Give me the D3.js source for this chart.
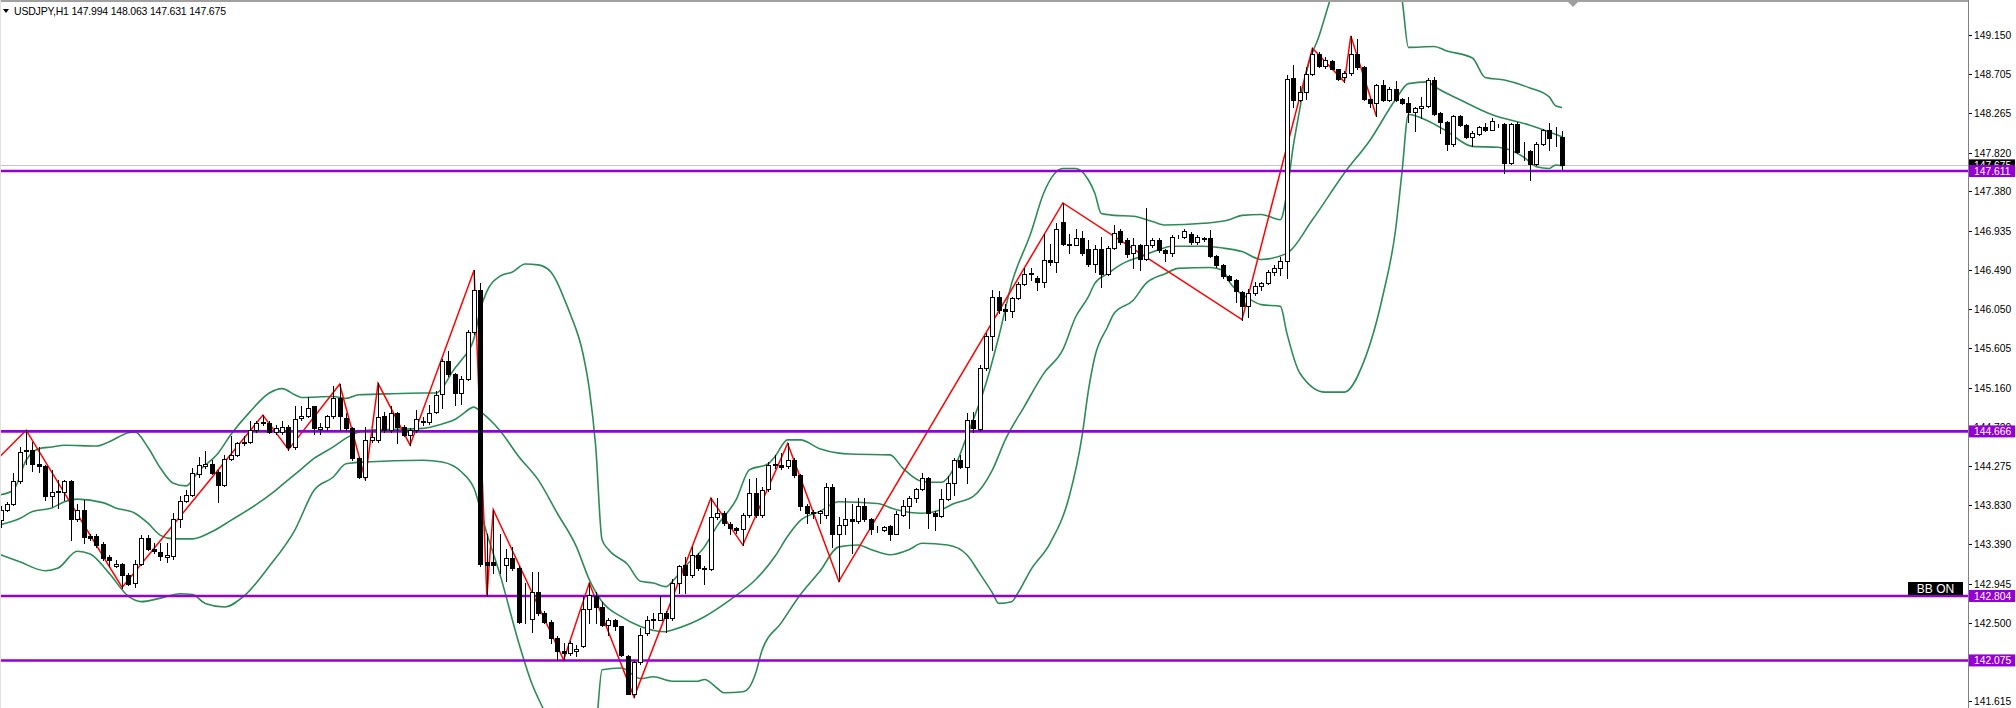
<!DOCTYPE html>
<html><head><meta charset="utf-8">
<script src="https://cdn.jsdelivr.net/npm/d3@7"></script>
<style>html,body{margin:0;padding:0;background:#fff;overflow:hidden}</style>
</head><body>
<svg id="c" width="2016" height="708"></svg>
<script>
const symbol = "USDJPY,H1";
const opens = [
143.66,143.78,143.85,144.10,144.44,144.46,144.30,144.27,143.94,143.98,
143.98,144.10,143.67,143.78,143.48,143.48,143.39,143.24,143.14,143.17,
143.04,142.95,143.17,143.46,143.34,143.30,143.25,143.26,143.68,143.88,
143.95,144.18,144.27,144.30,144.21,144.06,144.35,144.40,144.53,144.55,
144.68,144.76,144.76,144.66,144.66,144.72,144.49,144.82,144.84,144.95,
144.69,144.72,144.84,145.04,144.82,144.70,144.36,144.15,144.57,144.57,
144.84,144.68,144.87,144.72,144.62,144.68,144.77,144.77,144.88,145.09,
145.46,145.31,145.10,145.26,145.79,146.26,143.19,143.19,143.15,143.15,
143.23,143.12,142.53,142.54,142.85,142.61,142.51,142.33,142.18,142.16,
142.18,142.24,142.66,142.80,142.68,142.48,142.53,142.46,142.13,141.69,
142.06,142.38,142.53,142.53,142.61,142.55,142.95,143.16,143.04,143.27,
143.12,143.11,143.70,143.74,143.62,143.57,143.56,143.72,143.97,143.72,
144.01,144.29,144.29,144.27,144.34,144.17,143.82,143.74,143.74,143.72,
144.04,143.51,143.61,143.67,143.65,143.82,143.67,143.57,143.55,143.60,
143.51,143.72,143.82,143.91,144.01,144.14,143.74,143.71,143.90,144.08,
144.34,144.26,144.80,144.69,145.38,145.75,146.19,146.05,146.03,146.17,
146.33,146.45,146.40,146.36,146.61,146.58,147.04,146.79,146.78,146.85,
146.73,146.56,146.73,146.45,146.74,146.93,146.83,146.68,146.77,146.62,
146.77,146.83,146.72,146.68,146.86,146.87,146.90,146.81,146.84,146.85,
146.65,146.55,146.42,146.38,146.24,146.09,146.23,146.31,146.34,146.47,
146.51,146.59,148.66,148.42,148.50,148.71,148.94,148.80,148.86,148.76,
148.68,148.72,148.94,148.79,148.43,148.38,148.59,148.42,148.54,148.43,
148.38,148.28,148.32,148.35,148.64,148.27,148.17,147.92,148.23,148.13,
148.00,148.03,148.11,148.08,148.12,148.14,147.70,148.14,147.84,147.84,
147.69,147.92,148.08,147.99,147.994];
const highs = [
143.82,143.87,144.19,144.49,144.68,144.55,144.49,144.29,144.23,144.12,
144.12,144.12,143.85,143.89,143.51,143.51,143.42,143.27,143.21,143.18,
143.06,143.21,143.49,143.49,143.40,143.40,143.40,143.74,143.93,144.00,
144.25,144.38,144.44,144.34,144.23,144.40,144.61,144.55,144.61,144.78,
144.78,144.85,144.78,144.74,144.78,144.74,144.95,144.95,145.06,144.95,
144.76,144.85,145.18,145.20,144.87,144.72,144.38,144.72,144.68,145.21,
144.89,144.95,144.89,144.74,144.70,144.91,144.83,144.97,145.12,145.49,
145.58,145.33,145.29,145.81,146.49,146.35,143.51,143.78,143.50,143.34,
143.36,143.14,142.95,143.08,143.08,142.63,142.53,142.35,142.27,142.29,
142.25,142.80,142.95,142.85,142.74,142.56,142.54,142.47,142.14,142.08,
142.44,142.58,142.61,142.80,142.63,143.00,143.16,143.25,143.36,143.29,
143.14,143.91,143.91,143.76,143.64,143.58,143.74,144.13,144.14,144.04,
144.32,144.40,144.42,144.53,144.36,144.18,143.84,143.78,143.78,144.08,
144.07,143.70,143.91,143.85,143.91,143.91,143.69,143.60,143.60,143.61,
143.76,143.89,143.93,144.03,144.20,144.15,143.76,144.01,144.16,144.36,
144.40,144.87,144.89,145.42,145.78,146.27,146.25,146.11,146.19,146.36,
146.51,146.51,146.42,146.90,146.79,147.02,147.25,146.90,146.96,146.93,
146.83,146.77,146.87,146.76,147.00,146.95,146.85,146.85,146.79,147.19,
146.85,146.85,146.73,146.89,146.89,146.95,146.92,146.89,146.86,146.94,
146.66,146.56,146.43,146.39,146.25,146.28,146.36,146.36,146.49,146.55,
146.64,148.70,148.81,148.57,148.79,149.00,148.96,148.90,148.87,148.77,
148.74,149.14,149.11,148.80,148.44,148.60,148.64,148.56,148.63,148.44,
148.45,148.33,148.45,148.66,148.68,148.28,148.18,148.25,148.25,148.14,
148.06,148.12,148.15,148.21,148.14,148.15,148.15,148.17,147.94,147.85,
147.94,148.09,148.15,148.11,148.063];
const lows = [
143.59,143.76,143.83,144.08,144.30,144.22,144.21,143.89,143.82,143.80,
143.89,143.44,143.65,143.40,143.44,143.36,143.21,143.14,143.13,142.90,
142.93,142.91,143.15,143.32,143.29,143.21,143.19,143.22,143.59,143.87,
143.93,144.15,144.25,144.18,143.87,144.05,144.34,144.39,144.51,144.53,
144.66,144.74,144.65,144.64,144.64,144.46,144.47,144.80,144.83,144.64,
144.64,144.68,144.82,144.68,144.68,144.34,144.14,144.12,144.55,144.55,
144.66,144.66,144.53,144.61,144.51,144.66,144.74,144.75,144.87,144.93,
145.29,144.97,144.98,145.25,145.77,143.14,142.80,143.06,143.06,142.97,
143.10,142.50,142.50,142.40,142.59,142.50,142.27,142.08,142.08,142.14,
142.12,142.23,142.50,142.50,142.46,142.36,142.42,142.12,141.69,141.66,
142.04,142.36,142.44,142.53,142.40,142.53,142.84,142.84,143.02,143.10,
142.94,143.10,143.68,143.61,143.51,143.52,143.38,143.70,143.70,143.70,
143.99,144.25,144.24,144.25,144.15,143.78,143.63,143.69,143.63,143.69,
143.36,142.97,143.51,143.29,143.63,143.65,143.51,143.53,143.54,143.44,
143.51,143.71,143.57,143.87,144.00,143.57,143.55,143.70,143.89,143.95,
144.25,144.08,144.66,144.67,145.36,145.59,146.00,145.93,145.96,146.16,
146.32,146.38,146.27,146.30,146.55,146.47,146.77,146.68,146.77,146.66,
146.54,146.47,146.30,146.44,146.73,146.79,146.64,146.51,146.49,146.60,
146.75,146.70,146.59,146.65,146.85,146.85,146.79,146.79,146.82,146.64,
146.53,146.40,146.37,146.13,145.93,145.96,146.21,146.27,146.33,146.44,
146.44,146.40,148.34,148.40,148.43,148.70,148.79,148.78,148.76,148.64,
148.62,148.70,148.77,148.42,148.34,148.23,148.40,148.40,148.40,148.37,
148.17,148.06,148.21,148.33,148.25,148.04,147.85,147.90,148.12,147.99,
147.89,148.02,148.06,148.07,148.11,147.59,147.69,147.81,147.74,147.51,
147.68,147.91,147.85,147.89,147.631];
const closes = [
143.78,143.84,144.10,144.43,144.46,144.30,144.27,143.94,143.98,143.99,
144.10,143.67,143.78,143.47,143.46,143.38,143.23,143.21,143.17,143.04,
142.94,143.17,143.46,143.34,143.31,143.26,143.27,143.68,143.88,143.95,
144.19,144.29,144.30,144.20,144.06,144.35,144.40,144.53,144.55,144.68,
144.76,144.77,144.66,144.70,144.72,144.49,144.81,144.84,144.93,144.70,
144.72,144.84,145.04,144.84,144.70,144.36,144.15,144.57,144.60,144.83,
144.68,144.87,144.72,144.62,144.68,144.81,144.78,144.87,145.08,145.46,
145.31,145.10,145.26,145.79,146.27,143.17,143.15,143.16,143.15,143.23,
143.12,142.51,142.53,142.85,142.61,142.51,142.33,142.18,142.16,142.27,
142.21,142.66,142.82,142.68,142.48,142.53,142.46,142.14,141.70,142.06,
142.36,142.53,142.54,142.61,142.55,142.95,143.14,143.04,143.27,143.12,
143.11,143.70,143.74,143.63,143.57,143.55,143.72,143.97,143.72,144.00,
144.29,144.30,144.26,144.34,144.17,143.82,143.74,143.75,143.76,144.04,
143.51,143.61,143.67,143.65,143.82,143.67,143.56,143.57,143.59,143.51,
143.73,143.82,143.91,144.01,144.14,143.74,143.71,143.90,144.08,144.34,
144.26,144.80,144.70,145.38,145.75,146.19,146.04,146.03,146.17,146.33,
146.45,146.46,146.36,146.61,146.58,146.96,146.79,146.78,146.85,146.68,
146.56,146.73,146.45,146.74,146.91,146.81,146.67,146.77,146.62,146.77,
146.83,146.72,146.68,146.87,146.87,146.93,146.81,146.86,146.85,146.65,
146.55,146.42,146.38,146.25,146.09,146.23,146.31,146.34,146.47,146.51,
146.59,148.65,148.42,148.50,148.71,148.94,148.80,148.87,148.77,148.65,
148.72,148.94,148.79,148.43,148.38,148.58,148.42,148.54,148.42,148.38,
148.28,148.32,148.35,148.64,148.26,148.17,147.92,148.23,148.13,148.00,
148.04,148.11,148.08,148.18,148.12,147.70,148.14,147.83,147.84,147.69,
147.92,148.08,147.98,147.99,147.675];

// Bollinger bands: [bar index, price]
const bbUpper = [[0,143.95],[2,144.00],[4,144.34],[6,144.47],[8,144.49],[10,144.51],[15,144.50],[17,144.55],[20,144.65],[21,144.66],[23,144.49],[25,144.25],[27,144.08],[29,144.05],[31,144.22],[34,144.42],[36,144.63],[39,144.89],[42,145.10],[44,145.15],[46,145.08],[47,145.05],[52,145.06],[54,145.04],[56,145.08],[60,145.09],[66,145.10],[68,145.10],[71,145.38],[72,145.47],[74,145.72],[75,146.05],[76,146.25],[78,146.42],[80,146.47],[82,146.56],[84,146.55],[86,146.47],[87,146.35],[88,146.18],[89,146.00],[91,145.55],[92,145.15],[93,144.50],[94,143.44],[95,143.33],[98,143.16],[100,142.97],[102,142.95],[104,142.91],[105,142.97],[107,143.14],[110,143.36],[112,143.60],[115,143.90],[117,144.23],[120,144.30],[121,144.38],[123,144.57],[125,144.57],[128,144.47],[131,144.42],[133,144.41],[139,144.40],[141,144.25],[144,144.10],[147,144.09],[149,144.25],[151,144.61],[154,145.21],[156,145.74],[158,146.34],[161,146.91],[163,147.36],[166,147.64],[168,147.64],[170,147.51],[171,147.36],[172,147.13],[174,147.11],[177,147.10],[180,147.04],[182,147.00],[188,147.02],[192,147.06],[194,147.11],[197,147.12],[200,147.06],[201,147.36],[202,147.89],[203,148.30],[204,148.72],[206,149.13],[208,149.60],[210,150.00],[213,150.20],[216,150.00],[218,149.75],[219,149.55],[220,149.01],[224,149.02],[226,148.97],[230,148.89],[232,148.67],[235,148.64],[239,148.55],[242,148.45],[243,148.35],[244,148.33]];
const bbMiddle = [[0,143.61],[3,143.68],[5,143.76],[8,143.80],[10,143.87],[12,143.90],[16,143.86],[18,143.80],[21,143.74],[23,143.63],[25,143.49],[27,143.45],[30,143.45],[33,143.53],[36,143.66],[40,143.84],[43,144.00],[45,144.12],[47,144.24],[49,144.36],[52,144.49],[54,144.59],[56,144.66],[58,144.68],[66,144.70],[69,144.75],[71,144.80],[72,144.85],[74,144.94],[75,144.89],[78,144.68],[81,144.38],[84,144.12],[87,143.74],[90,143.36],[92,142.99],[94,142.74],[97,142.57],[100,142.46],[104,142.40],[105,142.42],[110,142.57],[114,142.76],[118,142.99],[121,143.25],[123,143.48],[125,143.66],[128,143.76],[131,143.87],[137,143.85],[140,143.78],[144,143.74],[147,143.78],[149,143.85],[152,143.93],[155,144.23],[157,144.57],[160,144.95],[163,145.32],[166,145.59],[168,145.96],[170,146.19],[171,146.34],[173,146.45],[175,146.55],[178,146.64],[181,146.72],[183,146.76],[188,146.76],[191,146.74],[194,146.70],[197,146.61],[201,146.68],[205,147.06],[210,147.59],[214,147.96],[218,148.42],[220,148.60],[223,148.62],[224,148.57],[228,148.42],[233,148.25],[239,148.13],[244,148.00]];
const bbLower = [[0,143.27],[3,143.19],[7,143.09],[9,143.12],[12,143.31],[14,143.28],[17,143.06],[20,142.80],[22,142.74],[25,142.78],[28,142.83],[30,142.82],[32,142.72],[35,142.68],[38,142.80],[42,143.14],[46,143.55],[49,144.00],[52,144.15],[54,144.30],[57,144.32],[66,144.34],[69,144.32],[72,144.21],[74,144.02],[76,143.51],[78,143.06],[81,142.27],[83,141.82],[85,141.50],[87,141.20],[89,141.00],[91,141.00],[93,141.30],[94,141.97],[97,141.99],[100,141.87],[102,141.89],[105,141.84],[109,141.84],[110,141.86],[112,141.76],[113,141.71],[116,141.72],[117,141.77],[118,141.93],[119,142.19],[122,142.50],[125,142.82],[128,143.08],[131,143.36],[134,143.38],[136,143.33],[139,143.27],[142,143.33],[144,143.40],[148,143.38],[151,143.27],[153,143.06],[155,142.84],[156,142.72],[158,142.74],[159,142.84],[161,143.10],[164,143.40],[167,143.93],[169,144.61],[170,145.13],[171,145.51],[173,145.85],[174,146.00],[177,146.15],[179,146.34],[182,146.45],[184,146.51],[189,146.52],[191,146.49],[192,146.36],[195,146.17],[197,146.10],[200,146.08],[201,145.78],[203,145.33],[207,145.11],[210,145.11],[213,145.45],[216,146.20],[218,146.95],[219,147.60],[220,148.25],[223,148.18],[226,148.06],[230,147.89],[234,147.88],[238,147.77],[240,147.66],[242,147.64],[243,147.68],[244,147.67]];
const zigzag = [[-6,143.95],[4,144.68],[19,142.90],[41,144.85],[45,144.46],[53,145.20],[57,144.12],[59,145.21],[64,144.51],[74,146.49],[76,142.80],[77,143.78],[88,142.08],[92,142.95],[99,141.66],[111,143.91],[116,143.38],[123,144.53],[131,142.97],[166,147.25],[194,145.93],[205,149.00],[210,148.62],[211,149.14],[215,148.23]];
const levels = [147.611, 144.666, 142.804, 142.075];
const tickValues = [149.150,148.705,148.265,147.820,147.380,146.935,146.490,146.050,145.605,145.160,144.720,144.275,143.830,143.390,142.945,142.500,142.055,141.615];
const bbLabel = "BB ON";

const W = 2016, H = 708, axisX = 1968;
const svg = d3.select("#c");
const n = closes.length;
const x = d3.scaleLinear().domain([0, n - 1]).range([0.5, 1562]);
const y = d3.scaleLinear().domain([141.615, 149.150]).range([701.1, 35]);
const fmt = d3.format(".3f");
const FONT = "'Liberation Sans', Arial, sans-serif";

svg.append("rect").attr("width", W).attr("height", H).attr("fill", "#fff");
svg.append("defs").append("clipPath").attr("id", "plot")
  .append("rect").attr("x", 0).attr("y", 2).attr("width", axisX).attr("height", H - 2);

const plot = svg.append("g").attr("clip-path", "url(#plot)");

// current price line
plot.append("line").attr("x1", 0).attr("x2", axisX)
  .attr("y1", Math.round(y(closes[n-1])) + 0.5).attr("y2", Math.round(y(closes[n-1])) + 0.5)
  .attr("stroke", "#c4c4c4").attr("stroke-width", 1.2);

// Bollinger bands
const bbLine = d3.line().x(d => x(d[0])).y(d => y(d[1])).curve(d3.curveMonotoneX);
[bbUpper, bbMiddle, bbLower].forEach(b => {
  plot.append("path").attr("d", bbLine(b)).attr("fill", "none")
    .attr("stroke", "#2e8b57").attr("stroke-width", 1.6);
});

// zigzag
plot.append("path").attr("d", d3.line().x(d => x(d[0])).y(d => y(d[1]))(zigzag))
  .attr("fill", "none").attr("stroke", "#ff0000").attr("stroke-width", 1.5);

// horizontal levels
levels.forEach(v => {
  plot.append("line").attr("x1", 0).attr("x2", axisX).attr("y1", y(v)).attr("y2", y(v))
    .attr("stroke", "#9400d3").attr("stroke-width", 2.6);
});

// candles (chart on foreground)
const cg = plot.append("g");
for (let i = 0; i < n; i++) {
  const c = Math.round(x(i));
  const o = opens[i], cl = closes[i];
  const yh = Math.round(y(highs[i])), yl = Math.round(y(lows[i]));
  const top = Math.round(y(Math.max(o, cl))), bot = Math.round(y(Math.min(o, cl)));
  cg.append("line").attr("x1", c + 0.5).attr("x2", c + 0.5).attr("y1", yh).attr("y2", yl + 1)
    .attr("stroke", "#000").attr("stroke-width", 1);
  if (cl >= o) {
    cg.append("rect").attr("x", c - 1.5).attr("y", top + 0.5).attr("width", 4)
      .attr("height", Math.max(0, bot - top)).attr("fill", "#fff").attr("stroke", "#000").attr("stroke-width", 1);
  } else {
    cg.append("rect").attr("x", c - 2).attr("y", top).attr("width", 5)
      .attr("height", Math.max(1, bot - top + 1)).attr("fill", "#000");
  }
}

// frame
svg.append("line").attr("x1", 0).attr("x2", axisX).attr("y1", 1).attr("y2", 1)
  .attr("stroke", "#a0a0a0").attr("stroke-width", 2);
svg.append("line").attr("x1", 0.5).attr("x2", 0.5).attr("y1", 0).attr("y2", H)
  .attr("stroke", "#e0e0e0").attr("stroke-width", 1);
svg.append("line").attr("x1", axisX + 0.5).attr("x2", axisX + 0.5).attr("y1", 0).attr("y2", H)
  .attr("stroke", "#808080").attr("stroke-width", 1);
// shift marker
svg.append("path").attr("d", "M1568,2 L1578,2 L1573,7 Z").attr("fill", "#a0a0a0");

// axis ticks + labels
const ax = svg.append("g");
tickValues.forEach(v => {
  const yy = Math.round(y(v)) + 0.5;
  ax.append("line").attr("x1", axisX + 1).attr("x2", axisX + 4).attr("y1", yy).attr("y2", yy)
    .attr("stroke", "#000").attr("stroke-width", 1);
  ax.append("text").attr("x", axisX + 6).attr("y", yy).attr("dy", "0.36em")
    .attr("font-family", FONT).attr("font-size", 10.3).attr("fill", "#000").text(fmt(v));
});

// bid label
function priceLabel(v, bg) {
  const yy = y(v);
  svg.append("rect").attr("x", axisX + 1).attr("y", yy - 6).attr("width", W - axisX - 2).attr("height", 12).attr("fill", bg);
  svg.append("text").attr("x", axisX + 6).attr("y", yy).attr("dy", "0.36em")
    .attr("font-family", FONT).attr("font-size", 10.3).attr("fill", "#fff").text(fmt(v));
}
priceLabel(closes[n-1], "#000");
levels.forEach(v => priceLabel(v, "#9400d3"));

// BB ON badge
svg.append("rect").attr("x", 1908).attr("y", 582).attr("width", 55).attr("height", 13).attr("fill", "#000");
svg.append("text").attr("x", 1935.5).attr("y", 588.5).attr("dy", "0.36em").attr("text-anchor", "middle")
  .attr("font-family", FONT).attr("font-size", 12).attr("fill", "#fff").text(bbLabel);

// header
svg.append("path").attr("d", "M3,9 L9,9 L6,13 Z").attr("fill", "#000");
svg.append("text").attr("x", 14).attr("y", 15)
  .attr("font-family", FONT).attr("font-size", 10.5).attr("fill", "#000")
  .attr("textLength", 212).attr("lengthAdjust", "spacing")
  .text(`${symbol}  ${fmt(opens[n-1])} ${fmt(highs[n-1])} ${fmt(lows[n-1])} ${fmt(closes[n-1])}`);
</script>
</body></html>
